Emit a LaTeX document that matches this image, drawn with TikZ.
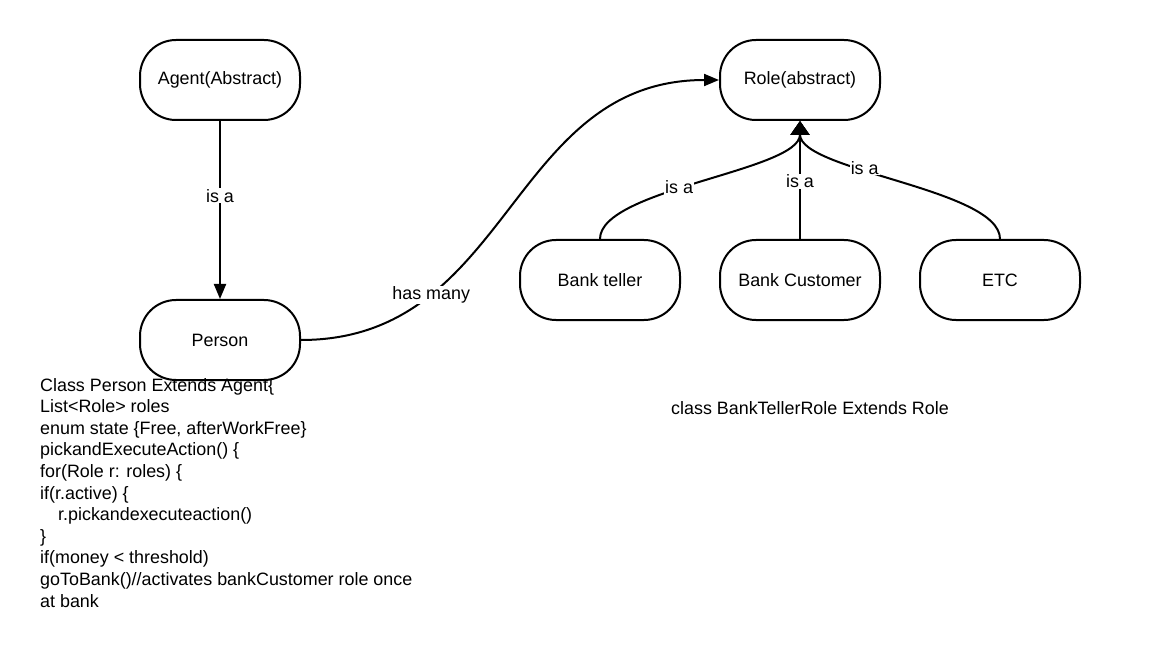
\documentclass[tikz,border=0pt]{standalone}
\usepackage{fontspec}
\setmainfont{Liberation Sans}
\usetikzlibrary{arrows.meta}
\begin{document}
\begin{tikzpicture}[x=1pt,y=-1pt,
  txt/.style={font=\fontsize{17.9}{21.6}\selectfont},
  box/.style={draw, line width=2pt, rounded corners=36pt, minimum width=160pt, minimum height=80pt, txt},
  conn/.style={line width=2pt, -{Triangle[length=15pt,width=12pt]}},
  inh/.style={line width=2pt, -{Triangle[length=14pt,width=19pt]}},
  lbl/.style={fill=white, inner sep=1pt, txt}]
\useasboundingbox (0,0) rectangle (1160,647);
\fill[white] (0,0) rectangle (1160,647);

\node[box] (agent) at (220,80) {Agent(Abstract)};
\node[box] (person) at (220,340) {Person};
\node[box] (role) at (800,80) {Role(abstract)};
\node[box] (teller) at (600,280) {Bank teller};
\node[box] (customer) at (800,280) {Bank Customer};
\node[box] (etc) at (1000,280) {ETC};

\draw[conn] (agent.south) -- node[lbl, pos=0.42] {is a} (person.north);
\draw[conn] (person.east) .. controls +(210,0) and +(-210,0) .. node[lbl, pos=0.265] {has many} (role.west);

\draw[inh] (teller.north) .. controls +(0,-50) and +(0,50) .. node[lbl, pos=0.43] {is a} (role.south);
\draw[inh] (etc.north) .. controls +(0,-50) and +(0,50) .. node[lbl, pos=0.62] {is a} (role.south);
\draw[inh] (customer.north) -- node[lbl, pos=0.49] {is a} (role.south);

\node[txt, align=left, inner sep=0pt, anchor=north west] (code) at (40,378) {Class Person Extends Agent\{\\
List<Role> roles\\
enum state \{Free, afterWorkFree\}\\
pickandExecuteAction() \{\\
for(Role r: roles) \{\\
if(r.active) \{\\
\hspace*{18pt}r.pickandexecuteaction()\\
\}\\
if(money < threshold)\\
goToBank()//activates bankCustomer role once\\
at bank};

\node[txt] (tellerclass) at (810,408) {class BankTellerRole Extends Role};
\end{tikzpicture}
\end{document}
